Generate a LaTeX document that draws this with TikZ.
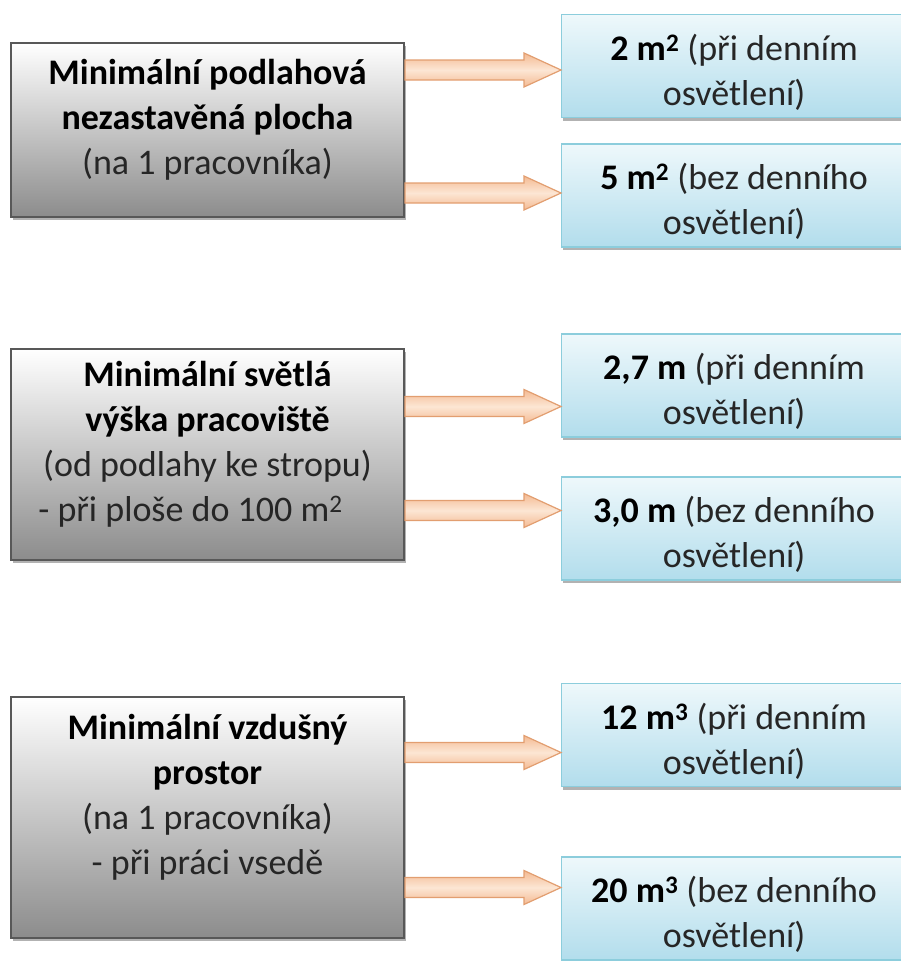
\documentclass[tikz,border=0pt]{standalone}
\usepackage{fontspec}
\setmainfont{Carlito}
\usepackage{tikz}
\usetikzlibrary{calc,positioning,shadows}
\definecolor{plgray}{RGB}{140,140,140}
\definecolor{pldark}{RGB}{88,88,88}
\definecolor{plblue}{RGB}{178,221,236}
\definecolor{pllightblue}{RGB}{238,248,251}
\definecolor{plteal}{RGB}{140,205,220}
\definecolor{plpeach}{RGB}{244,186,146}
\definecolor{pllightpeach}{RGB}{252,230,212}
\definecolor{plorange}{RGB}{226,158,112}
\definecolor{pltext}{RGB}{38,38,38}
\tikzstyle{limit} = [rectangle, minimum width=393pt, inner sep=0pt, draw=pldark, line width=2pt, top color=white, bottom color=plgray, drop shadow={shadow xshift=2pt, shadow yshift=-3pt, fill=black, opacity=0.3}]
\tikzstyle{value} = [rectangle, minimum width=345pt, minimum height=103pt, inner sep=0pt, draw=plteal, line width=1.2pt, top color=pllightblue, bottom color=plblue, drop shadow={shadow xshift=1pt, shadow yshift=-3pt, fill=black, opacity=0.3}]
\tikzstyle{boxtext} = [align=center, text=pltext, font=\fontsize{36}{45}\selectfont]
\tikzstyle{fatarrow} = [draw=plorange, line width=1.2pt, top color=plpeach, bottom color=plpeach, middle color=pllightpeach]
\newcommand{\fatarrow}[2]{\path[fatarrow] ($(#1)+(0,-10)$) -- ($(#2)+(-37,-10)$) -- ($(#2)+(-37,-17)$) -- (#2) -- ($(#2)+(-37,17)$) -- ($(#2)+(-37,10)$) -- ($(#1)+(0,10)$) -- cycle;}

\begin{document}
\begin{tikzpicture}[x=1pt, y=-1pt]
\useasboundingbox (0,0) rectangle (901,961);

% Floor area
\node (area) [limit, minimum height=174pt] at (207.5,130) {};
\node[boxtext] at ([yshift=10pt]area.center) {\textbf{\color{black}Minimální podlahová}\\\textbf{\color{black}nezastavěná plocha}\\(na 1 pracovníka)};
\node (areaday) [value, right=156pt of area.east, yshift=64pt] {};
\node[boxtext] at ([yshift=-6pt]areaday.center) {\textbf{\color{black}2 m\textsuperscript{2}} (při denním\\osvětlení)};
\node (areanight) [value, right=156pt of area.east, yshift=-65.5pt] {};
\node[boxtext] at ([yshift=-6pt]areanight.center) {\textbf{\color{black}5 m\textsuperscript{2}} (bez denního\\osvětlení)};

% Clear height
\node (height) [limit, minimum height=211pt] at (207.5,454.5) {};
\node[boxtext] at ([yshift=10pt]height.center) {\textbf{\color{black}Minimální světlá}\\\textbf{\color{black}výška pracoviště}\\(od podlahy ke stropu)\\- při ploše do 100 m\textsuperscript{2}\hspace*{34pt}};
\node (heightday) [value, right=156pt of height.east, yshift=69pt] {};
\node[boxtext] at ([yshift=-6pt]heightday.center) {\textbf{\color{black}2,7 m} (při denním\\osvětlení)};
\node (heightnight) [value, right=156pt of height.east, yshift=-74pt] {};
\node[boxtext] at ([yshift=-6pt]heightnight.center) {\textbf{\color{black}3,0 m} (bez denního\\osvětlení)};

% Air space
\node (air) [limit, minimum height=241pt] at (207.5,817.5) {};
\node[boxtext] at ([yshift=20pt]air.center) {\textbf{\color{black}Minimální vzdušný}\\\textbf{\color{black}prostor}\\(na 1 pracovníka)\\- při práci vsedě};
\node (airday) [value, right=156pt of air.east, yshift=82.5pt] {};
\node[boxtext] at ([yshift=-6pt]airday.center) {\textbf{\color{black}12 m\textsuperscript{3}} (při denním\\osvětlení)};
\node (airnight) [value, right=156pt of air.east, yshift=-91pt] {};
\node[boxtext] at ([yshift=-6pt]airnight.center) {\textbf{\color{black}20 m\textsuperscript{3}} (bez denního\\osvětlení)};

% Arrows
\coordinate (a1) at ([yshift=-4pt]areaday.west -| area.east);
\coordinate (a2) at ([yshift=2.5pt]areanight.west -| area.east);
\coordinate (h1) at ([yshift=-21pt]heightday.west -| height.east);
\coordinate (h2) at ([yshift=18pt]heightnight.west -| height.east);
\coordinate (v1) at ([yshift=-17.5pt]airday.west -| air.east);
\coordinate (v2) at ([yshift=21pt]airnight.west -| air.east);
\fatarrow{a1}{a1 -| areaday.west}
\fatarrow{a2}{a2 -| areanight.west}
\fatarrow{h1}{h1 -| heightday.west}
\fatarrow{h2}{h2 -| heightnight.west}
\fatarrow{v1}{v1 -| airday.west}
\fatarrow{v2}{v2 -| airnight.west}
\end{tikzpicture}
\end{document}
